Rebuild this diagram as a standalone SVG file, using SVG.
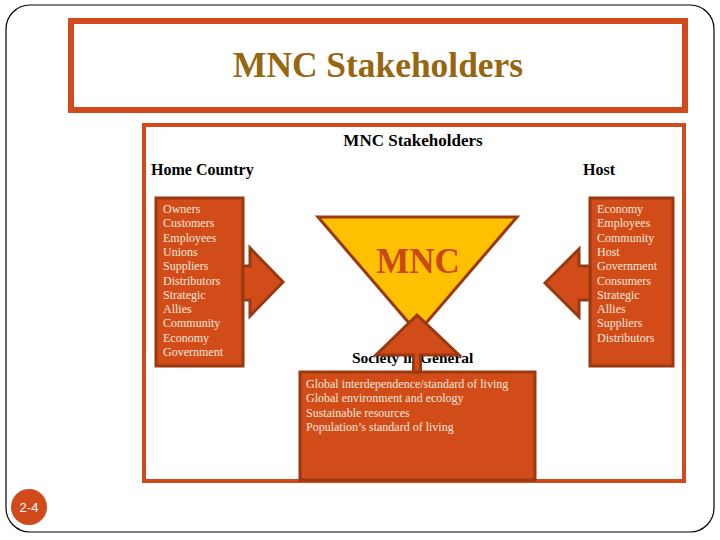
<svg xmlns="http://www.w3.org/2000/svg" width="720" height="540" viewBox="0 0 720 540">
<style>
.box{fill:#D24C1A;stroke:#9A3810;stroke-width:3}
.lst{font-family:"Liberation Serif",serif;font-size:12px;fill:#F7E9DA}
.hd{font-family:"Liberation Serif",serif;font-weight:bold;fill:#000}
</style>
<rect x="6" y="5" width="708" height="527" rx="24" fill="#fff" stroke="#000" stroke-width="1.2"/>
<g id="title">
<rect x="71" y="21" width="614" height="89" fill="#fff" stroke="#D04A1C" stroke-width="6"/>
<text x="378" y="77" text-anchor="middle" font-family="Liberation Serif,serif" font-weight="bold" font-size="36" fill="#966610" textLength="290" lengthAdjust="spacingAndGlyphs">MNC Stakeholders</text>
</g>
<g id="frame">
<rect x="144" y="125" width="540" height="356" fill="#fff" stroke="#D04A1C" stroke-width="4"/>
<text class="hd" x="413" y="146" text-anchor="middle" font-size="17">MNC Stakeholders</text>
<text class="hd" x="151" y="175" font-size="16">Home Country</text>
<text class="hd" x="583" y="175" font-size="16">Host</text>
</g>
<g id="mnc">
<polygon points="318,217 517,217 417.5,333" fill="#FFC000" stroke="#9A3810" stroke-width="3"/>
<text x="418" y="273" text-anchor="middle" font-family="Liberation Serif,serif" font-weight="bold" font-size="35" fill="#C8481A">MNC</text>
</g>
<g id="home">
<rect class="box" x="156" y="198" width="87" height="168"/>
<text class="lst"><tspan x="163" y="213">Owners</tspan><tspan x="163" y="227.3">Customers</tspan><tspan x="163" y="241.6">Employees</tspan><tspan x="163" y="255.9">Unions</tspan><tspan x="163" y="270.2">Suppliers</tspan><tspan x="163" y="284.5">Distributors</tspan><tspan x="163" y="298.8">Strategic</tspan><tspan x="163" y="313.1">Allies</tspan><tspan x="163" y="327.4">Community</tspan><tspan x="163" y="341.7">Economy</tspan><tspan x="163" y="356">Government</tspan></text>
</g>
<g id="host">
<rect class="box" x="590" y="198" width="83" height="168"/>
<text class="lst"><tspan x="597" y="213">Economy</tspan><tspan x="597" y="227.3">Employees</tspan><tspan x="597" y="241.6">Community</tspan><tspan x="597" y="255.9">Host</tspan><tspan x="597" y="270.2">Government</tspan><tspan x="597" y="284.5">Consumers</tspan><tspan x="597" y="298.8">Strategic</tspan><tspan x="597" y="313.1">Allies</tspan><tspan x="597" y="327.4">Suppliers</tspan><tspan x="597" y="341.7">Distributors</tspan></text>
</g>
<g id="society">
<text class="hd" x="352" y="363" font-size="15.5">Society in General</text>
<rect class="box" x="300" y="372" width="235" height="108"/>
<text class="lst"><tspan x="306" y="388">Global interdependence/standard of living</tspan><tspan x="306" y="402.3">Global environment and ecology</tspan><tspan x="306" y="416.6">Sustainable resources</tspan><tspan x="306" y="430.9">Population’s standard of living</tspan></text>
</g>
<g id="connectors">
<polygon class="box" points="243,266 250,266 250,248 283,282 250,316 250,300 243,300"/>
<polygon class="box" points="590,266 579,266 579,249 545,283 579,317 579,300 590,300"/>
<polygon class="box" points="413.5,372 413.5,355 376,355 417,315 459,355 420.5,355 420.5,372"/>
</g>
<g id="page">
<circle cx="29" cy="507" r="18" fill="#D04A1C"/>
<text x="29" y="512" text-anchor="middle" font-family="Liberation Sans,sans-serif" font-size="13" fill="#fff">2-4</text>
</g>
</svg>
